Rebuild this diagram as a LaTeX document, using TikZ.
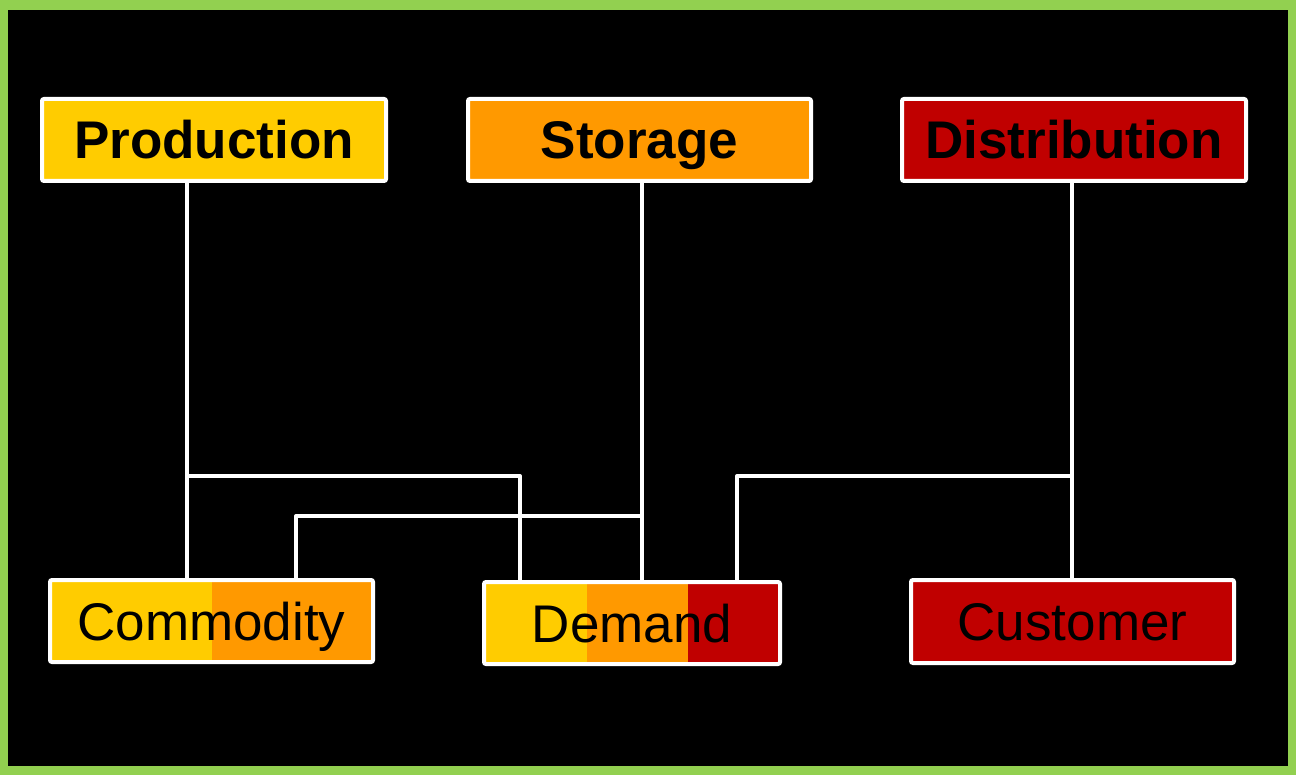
\documentclass[tikz,border=0pt]{standalone}
\usepackage{fontspec}
\setmainfont{Liberation Sans}
\definecolor{cyel}{HTML}{FFCC00}
\definecolor{corg}{HTML}{FF9900}
\definecolor{cred}{HTML}{C00000}
\definecolor{cgrn}{HTML}{92D050}
\tikzset{
  box/.style={draw=white, line width=4pt, rounded corners=2pt, inner sep=0pt,
    minimum height=82pt, text height=38pt, text depth=0pt,
    font=\fontsize{53}{60}\selectfont, text=black},
  headbox/.style={box, font=\fontsize{53}{60}\selectfont\bfseries, minimum width=344pt},
  link/.style={draw=white, line width=4pt, line join=round},
  twofill/.style={path picture={
    \fill[cyel] (path picture bounding box.south west) rectangle (path picture bounding box.north east);
    \fill[corg] ([xshift=0.5pt]path picture bounding box.south) rectangle (path picture bounding box.north east);}},
  threefill/.style={path picture={
    \fill[cyel] (path picture bounding box.south west) rectangle (path picture bounding box.north east);
    \fill[corg] ([xshift=103pt]path picture bounding box.south west) rectangle (path picture bounding box.north east);
    \fill[cred] ([xshift=204pt]path picture bounding box.south west) rectangle (path picture bounding box.north east);}}
}
\begin{document}
\begin{tikzpicture}[x=1pt, y=-1pt]
  % frame and backdrop
  \fill[cgrn] (0,0) rectangle (1296,775);
  \fill[black] (8,10) rectangle (1288,766);
  \useasboundingbox (0,0) rectangle (1296,775);

  % top row
  \node[headbox, fill=cyel] (prod) at (214,140) {Production};
  \node[headbox, fill=corg, minimum width=343pt] (stor) at (639.5,140) {Storage};
  \node[headbox, fill=cred] (dist) at (1074,140) {Distribution};

  % bottom row
  \node[box, twofill, minimum width=323pt] (comm) at (211.5,621) {Commodity};
  \node[box, threefill, minimum width=296pt] (dem) at (632,623) {Demand};
  \node[box, fill=cred, minimum width=323pt, minimum height=83pt] (cust) at (1072.5,621.5) {Customer};

  % connector columns and junctions
  \coordinate (xp) at (187,0);
  \coordinate (xs) at (642,0);
  \coordinate (xd) at (1072,0);
  \coordinate (xc) at (296,0);
  \coordinate (xdl) at (520,0);
  \coordinate (xdr) at (737,0);
  \coordinate (jp) at (187,476);
  \coordinate (js) at (642,516);
  \coordinate (jd) at (1072,476);

  % connectors
  \draw[link] (prod.south -| xp) -- (comm.north -| xp);
  \draw[link] (jp) -| (dem.north -| xdl);
  \draw[link] (stor.south -| xs) -- (dem.north -| xs);
  \draw[link] (js) -| (comm.north -| xc);
  \draw[link] (dist.south -| xd) -- (cust.north -| xd);
  \draw[link] (jd) -| (dem.north -| xdr);
\end{tikzpicture}
\end{document}
